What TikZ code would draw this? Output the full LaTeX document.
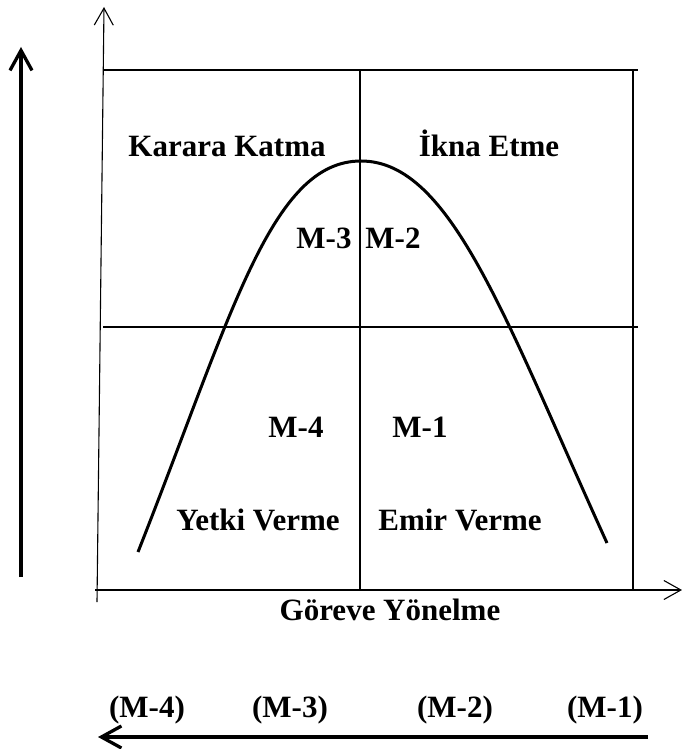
\documentclass[tikz,border=0pt]{standalone}
\usepackage{fontspec}
\setmainfont{Liberation Serif}
\usetikzlibrary{arrows.meta}

\begin{document}
\begin{tikzpicture}[x=1pt, y=-1pt, font=\fontsize{31}{37}\selectfont\bfseries]
  \tikzstyle{lbl}=[inner sep=0pt, anchor=base]
  \tikzstyle{thinline}=[line width=1.1pt]
  \tikzstyle{axis}=[thinline, -{Straight Barb[length=17pt, width=19pt]}]
  \tikzstyle{bigarrow}=[line width=3.3pt, -{Straight Barb[length=20pt, width=22pt]}]
  \tikzstyle{curve}=[line width=3pt]
  \useasboundingbox (0,0) rectangle (682,749);

  % axes
  \coordinate (orig) at (97,602);
  \coordinate (ytop) at (104,7);
  \coordinate (xleft) at (95,590);
  \coordinate (xright) at (682,590);
  \draw[axis] (orig) -- (ytop);
  \draw[axis] (xleft) -- (xright);

  % quadrants
  \draw[thinline] (104,70) -- (638,70);
  \draw[thinline] (103,327) -- (638,327);
  \draw[thinline] (360,70) -- (360,590);
  \draw[thinline] (633,70) -- (633,590);

  % bell curve
  \coordinate (cleft) at (138,552);
  \coordinate (cpeak) at (361,161);
  \coordinate (cright) at (607,543);
  \draw[curve] (cleft) .. controls (232,314) and (271,161) .. (cpeak)
    .. controls (451,161) and (505,319) .. (cright);

  % labels
  \node[lbl] (katma) at (227,157) {Karara Katma};
  \node[lbl] (ikna) at (489,157) {İkna Etme};
  \node[lbl] (m3) at (324,248) {M-3};
  \node[lbl] (m2) at (393,248) {M-2};
  \node[lbl] (m4) at (296,437) {M-4};
  \node[lbl] (m1) at (420,437) {M-1};
  \node[lbl] (yetki) at (258,530) {Yetki Verme};
  \node[lbl] (emir) at (460,530) {Emir Verme};
  \node[lbl] (gorev) at (390,620) {Göreve Yönelme};

  \node[lbl] (bm4) at (147,717) {(M-4)};
  \node[lbl] (bm3) at (290,717) {(M-3)};
  \node[lbl] (bm2) at (455,717) {(M-2)};
  \node[lbl] (bm1) at (605,717) {(M-1)};

  % side arrows
  \coordinate (vbot) at (21,577);
  \coordinate (vtop) at (21,47);
  \coordinate (hright) at (648,737);
  \coordinate (hleft) at (98,737);
  \draw[bigarrow] (vbot) -- (vtop);
  \draw[bigarrow] (hright) -- (hleft);
\end{tikzpicture}
\end{document}
